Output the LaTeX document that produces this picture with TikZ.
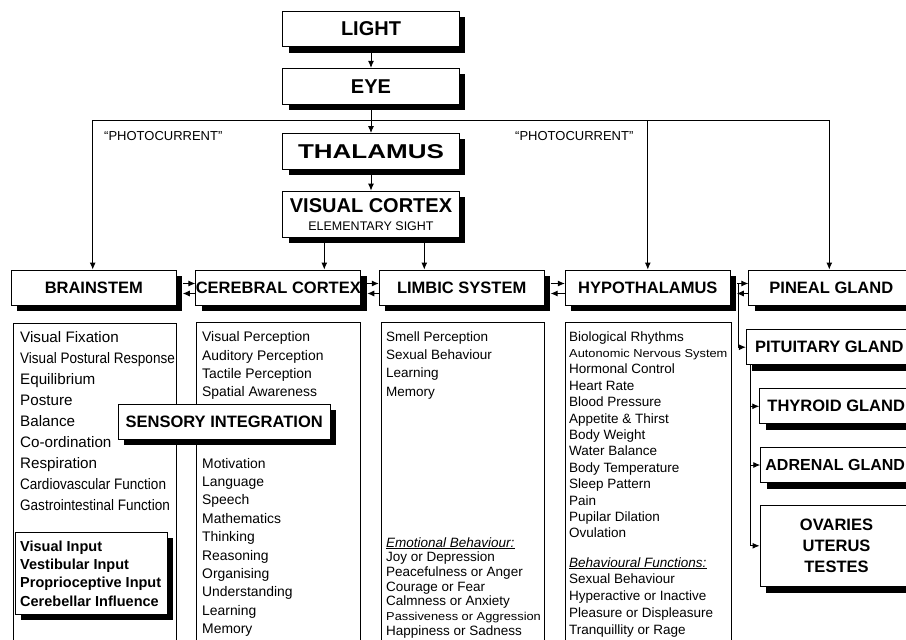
\documentclass[tikz,border=0pt]{standalone}
\usepackage{fontspec}
\setmainfont{Liberation Sans}
\usepackage{graphicx}
\usetikzlibrary{positioning,shadows,arrows.meta}
\newcommand{\narrowtxt}[1]{\scalebox{0.89}[1]{#1}}
\newcommand{\smalltxt}[1]{\scalebox{0.95}[0.85]{#1}}

\begin{document}
\begin{tikzpicture}[x=1pt,y=-1pt,
    box/.style={draw, fill=white, line width=0.9pt, inner sep=0pt, align=center,
        drop shadow={shadow xshift=6pt, shadow yshift=-6pt, fill=black, opacity=1}},
    topbox/.style={box, minimum width=176.6pt, minimum height=35.7pt,
        font=\bfseries\fontsize{20}{22}\selectfont},
    rowbox/.style={box, minimum width=165pt, minimum height=35pt,
        font=\bfseries\fontsize{16.5}{21}\selectfont},
    listbox/.style={draw, line width=0.9pt, anchor=north west, inner sep=0pt},
    itemtext/.style={anchor=base west, inner sep=0pt},
    arr/.style={-{Latex[length=7pt,width=6pt]}, line width=0.9pt}
]
\path[use as bounding box, clip] (0,0) rectangle (906,640);

% main chain
\node[topbox] (light) at (371,28.9) {LIGHT};
\node[topbox] (eye) at (371,86.2) {EYE};
\node[topbox] (thal) at (371,151.3) {\scalebox{1.3}[1]{THALAMUS}};
\node[topbox, minimum height=46.3pt] (vc) at (371,214.2)
    {VISUAL CORTEX\\[-4pt]{\normalfont\fontsize{12.5}{14}\selectfont ELEMENTARY SIGHT}};

% second row
\node[rowbox] (bs) at (93.8,287.5) {BRAINSTEM};
\node[rowbox] (cc) at (278.3,287.5) {CEREBRAL CORTEX};
\node[rowbox] (ls) at (461.7,287.5) {LIMBIC SYSTEM};
\node[rowbox] (hy) at (647.8,287.5) {HYPOTHALAMUS};
\node[rowbox] (pg) at (831.3,287.5) {PINEAL GLAND};

% glands
\node[rowbox, minimum width=166pt] (pt) at (829.3,347.2) {PITUITARY GLAND};
\node[rowbox, minimum width=153pt] (ty) at (836.2,406.3) {THYROID GLAND};
\node[rowbox, minimum width=149pt, font=\bfseries\fontsize{16}{21}\selectfont] (ad) at (835.2,465) {ADRENAL GLAND};
\node[rowbox, minimum width=153pt, minimum height=81.7pt] (ov) at (836.5,545.8)
    {OVARIES\\UTERUS\\TESTES};

% function lists
\node[listbox, minimum width=163pt, minimum height=330pt] (bsl) at (12.7,322.7) {};
\node[listbox, minimum width=164pt, minimum height=330pt] (ccl) at (196,322.3) {};
\node[listbox, minimum width=163pt, minimum height=330pt] (lsl) at (381,322.3) {};
\node[listbox, minimum width=166pt, minimum height=330pt] (hyl) at (565,322.3) {};

\foreach \t [count=\i from 0] in {Visual Fixation, {\narrowtxt{Visual Postural Response}},
    Equilibrium, Posture, Balance, Co-ordination, Respiration,
    {\narrowtxt{Cardiovascular Function}}, {\narrowtxt{Gastrointestinal Function}}}
  \node[itemtext, font=\fontsize{15.2}{18}\selectfont] (bs\i) at (20,{342+21*\i}) {\t};

\foreach \t [count=\i from 0] in {Visual Perception, Auditory Perception,
    Tactile Perception, Spatial Awareness}
  \node[itemtext, font=\fontsize{13.9}{16}\selectfont] (cca\i) at (202,{341.7+18.4*\i}) {\t};
\foreach \t [count=\i from 0] in {Motivation, Language, Speech, Mathematics, Thinking,
    Reasoning, Organising, Understanding, Learning, Memory}
  \node[itemtext, font=\fontsize{13.9}{16}\selectfont] (ccb\i) at (202,{468+18.4*\i}) {\t};

\foreach \t [count=\i from 0] in {Smell Perception, Sexual Behaviour, Learning, Memory}
  \node[itemtext, font=\fontsize{13.5}{16}\selectfont] (lsa\i) at (386,{341+18.4*\i}) {\t};
\foreach \t [count=\i from 0] in {{\underline{\textit{Emotional Behaviour:}}},
    Joy or Depression, Peacefulness or Anger, Courage or Fear, Calmness or Anxiety,
    {\smalltxt{Passiveness or Aggression}}, Happiness or Sadness}
  \node[itemtext, font=\fontsize{13.5}{16}\selectfont] (lsb\i) at (386,{547+14.7*\i}) {\t};

\foreach \t [count=\i from 0] in {Biological Rhythms, {\smalltxt{Autonomic Nervous System}},
    Hormonal Control, Heart Rate, Blood Pressure, Appetite \& Thirst, Body Weight,
    Water Balance, Body Temperature, Sleep Pattern, Pain, Pupilar Dilation, Ovulation}
  \node[itemtext, font=\fontsize{13.5}{16}\selectfont] (hya\i) at (569,{341+16.4*\i}) {\t};
\foreach \t [count=\i from 0] in {{\underline{\textit{Behavioural Functions:}}},
    Sexual Behaviour, Hyperactive or Inactive, Pleasure or Displeasure, Tranquillity or Rage}
  \node[itemtext, font=\fontsize{13.5}{16}\selectfont] (hyb\i) at (569,{567+16.75*\i}) {\t};

% boxes on top of the lists
\node[box, anchor=north west, minimum width=151.7pt, minimum height=82.3pt] (vi) at (15,531.7) {};
\foreach \t [count=\i from 0] in {Visual Input, Vestibular Input, Proprioceptive Input,
    Cerebellar Influence}
  \node[itemtext, font=\bfseries\fontsize{14.5}{17}\selectfont] (vi\i) at (20,{551+18.4*\i}) {\t};
\node[box, minimum width=211.7pt, minimum height=35pt,
    font=\bfseries\fontsize{16.5}{19}\selectfont] (si) at (224.2,421.5) {SENSORY INTEGRATION};

% photocurrent
\coordinate (pl) at (92.7,120.3);
\coordinate (pr) at (829.3,120.3);
\node[itemtext, anchor=west, font=\fontsize{13}{15}\selectfont] (pc1) at (104,136) {``PHOTOCURRENT''};
\node[itemtext, anchor=west, font=\fontsize{13}{15}\selectfont] (pc2) at (515,136) {``PHOTOCURRENT''};

% connectors
\draw[arr] (light) -- (eye);
\draw[arr] (eye) -- (thal);
\draw[arr] (thal) -- (vc);
\draw[line width=0.9pt] (pl) -- (pr);
\draw[arr] (pl) -- (pl |- bs.north);
\draw[arr] (hy.north |- pl) -- (hy.north);
\draw[arr] (pr) -- (pr |- pg.north);

\coordinate (v1) at ([xshift=-46.7pt]vc.south);
\coordinate (v2) at ([xshift=53.3pt]vc.south);
\draw[arr] (v1) -- (v1 |- cc.north);
\draw[arr] (v2) -- (v2 |- ls.north);

\foreach \a/\b in {bs/cc, cc/ls, ls/hy, hy/pg} {
  \draw[arr] ([xshift=6pt,yshift=4pt]\a.east) -- ([yshift=4pt]\b.west);
  \draw[arr] ([yshift=-6pt]\b.west) -- ([xshift=6pt,yshift=-6pt]\a.east);
}

\coordinate (hj) at ([xshift=8pt,yshift=4pt]hy.east);
\draw[arr] (hj) |- (pt.west);
\coordinate (pj) at ([xshift=4.4pt]pt.south west);
\draw[arr] (pj) |- (ty.west);
\draw[arr] (pj) |- (ad.west);
\draw[arr] (pj) |- (ov.west);
\end{tikzpicture}
\end{document}
